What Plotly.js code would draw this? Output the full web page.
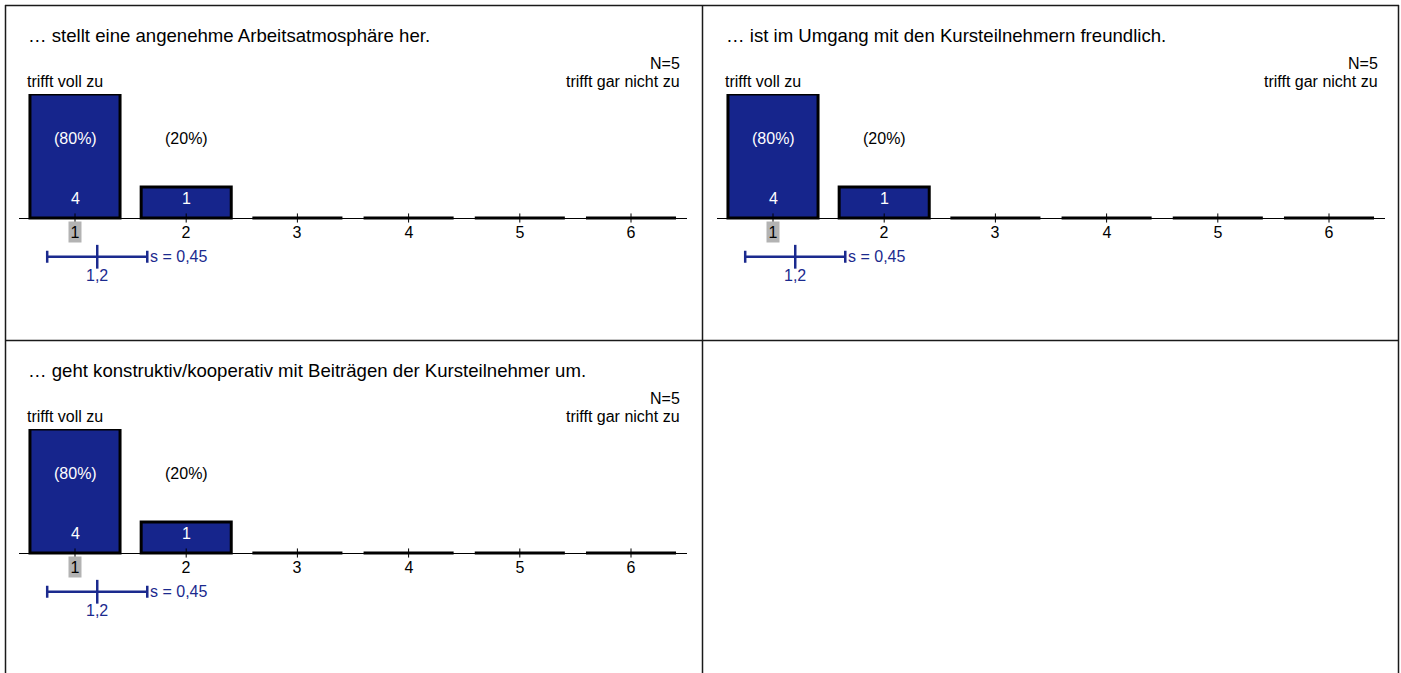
<!DOCTYPE html>
<html><head><meta charset="utf-8">
<script src="https://cdn.plot.ly/plotly-3.0.1.min.js"></script>
<style>html,body{margin:0;padding:0;background:#fff;overflow:hidden}#chart{width:1401px;height:673px}</style>
</head><body><div id="chart"></div>
<script>
const W = 1401, H = 673;

// ---- data ----
const categories = [1, 2, 3, 4, 5, 6];
const tickLabels = ['1', '2', '3', '4', '5', '6'];
const questions = [
  '… stellt eine angenehme Arbeitsatmosphäre her.',
  '… ist im Umgang mit den Kursteilnehmern freundlich.',
  '… geht konstruktiv/kooperativ mit Beiträgen der Kursteilnehmer um.'
];
const counts1 = [4, 1, 0, 0, 0, 0];
const counts2 = [4, 1, 0, 0, 0, 0];
const counts3 = [4, 1, 0, 0, 0, 0];
const percents1 = ['(80%)', '(20%)', '', '', '', ''];
const percents2 = ['(80%)', '(20%)', '', '', '', ''];
const percents3 = ['(80%)', '(20%)', '', '', '', ''];
const nValues = [5, 5, 5];
const means = [1.2, 1.2, 1.2];
const sds = [0.45, 0.45, 0.45];
const medians = [1, 1, 1];
const meanLabels = ['1,2', '1,2', '1,2'];
const sdLabels = ['s = 0,45', 's = 0,45', 's = 0,45'];
const leftPole = 'trifft voll zu';
const rightPole = 'trifft gar nicht zu';

const allCounts = [counts1, counts2, counts3];
const allPercents = [percents1, percents2, percents3];

// ---- style ----
const BAR = '#16258c';
const BLUE = '#1b2a8e';
const FONT = 'Liberation Sans, Arial, Helvetica, sans-serif';
const FS = 16, FT = 18.6;
const px = x => x / W;
const py = y => 1 - y / H;

// panel offsets (pixels)
const offsets = [[0, 0], [698, 0], [0, 335]];

const data = [];
const annotations = [];
const layout = {
  width: W, height: H,
  margin: {l: 0, r: 0, t: 0, b: 0, pad: 0},
  paper_bgcolor: '#fff', plot_bgcolor: 'rgba(0,0,0,0)',
  showlegend: false, hovermode: false,
  font: {family: FONT, color: '#000', size: FS},
  shapes: [],
  annotations: annotations
};

// y positions in data units (31 px per unit, baseline at y=0)
const Y_PCT = 2.55, Y_CNT = 0.64, Y_TICKLBL = -0.45, Y_MEAN = -1.25, Y_MEANLBL = -1.87;

offsets.forEach((o, i) => {
  const sfx = i === 0 ? '' : String(i + 1);
  const xa = 'x' + sfx, ya = 'y' + sfx;
  const ox = o[0], oy = o[1];
  layout['xaxis' + sfx] = {
    domain: [px(ox + 19.4), px(ox + 686.6)], range: [0.5, 6.5],
    showgrid: false, zeroline: false, showticklabels: false, ticks: '', showline: false,
    anchor: ya, fixedrange: true
  };
  layout['yaxis' + sfx] = {
    domain: [py(oy + 295.5), py(oy + 94)], range: [-2.5, 4],
    showgrid: false, showticklabels: false, ticks: '', showline: false,
    zeroline: true, zerolinecolor: '#000', zerolinewidth: 1,
    anchor: xa, fixedrange: true
  };
  const counts = allCounts[i];
  data.push({
    type: 'bar', x: categories, y: counts, width: 0.81,
    marker: {color: BAR, line: {color: '#000', width: 3}},
    xaxis: xa, yaxis: ya, hoverinfo: 'skip'
  });
  // axis tick marks
  data.push({
    type: 'scatter', mode: 'markers', x: categories, y: categories.map(() => 0),
    marker: {symbol: 'line-ns', size: 6.5, line: {color: '#000', width: 1}},
    xaxis: xa, yaxis: ya, hoverinfo: 'skip', cliponaxis: false
  });
  // mean +- sd
  data.push({
    type: 'scatter', mode: 'markers', x: [means[i]], y: [Y_MEAN],
    marker: {symbol: 'line-ns', size: 17, line: {color: BLUE, width: 2.5}},
    error_x: {type: 'data', array: [sds[i]], visible: true, color: BLUE, thickness: 2.5, width: 6},
    xaxis: xa, yaxis: ya, hoverinfo: 'skip', cliponaxis: false
  });
  // texts on bars
  categories.forEach((c, k) => {
    if (counts[k] > 0) {
      annotations.push({xref: xa, yref: ya, x: c, y: Y_CNT, text: String(counts[k]), showarrow: false,
        font: {size: FS, color: '#fff'}, xanchor: 'center', yanchor: 'middle'});
    }
    if (allPercents[i][k]) {
      annotations.push({xref: xa, yref: ya, x: c, y: Y_PCT, text: allPercents[i][k], showarrow: false,
        font: {size: FS, color: counts[k] >= 3 ? '#fff' : '#000'}, xanchor: 'center', yanchor: 'middle'});
    }
    annotations.push({xref: xa, yref: ya, x: c, y: Y_TICKLBL, text: tickLabels[k], showarrow: false,
      font: {size: FS, color: '#000'}, xanchor: 'center', yanchor: 'middle',
      bgcolor: c === medians[i] ? '#b3b3b3' : 'rgba(0,0,0,0)', borderpad: 1.5});
  });
  annotations.push({xref: xa, yref: ya, x: means[i], y: Y_MEANLBL, text: meanLabels[i], showarrow: false,
    font: {size: FS, color: BLUE}, xanchor: 'center', yanchor: 'middle'});
  annotations.push({xref: xa, yref: ya, x: means[i] + sds[i], y: Y_MEAN, text: sdLabels[i], showarrow: false,
    font: {size: FS, color: BLUE}, xanchor: 'left', yanchor: 'middle', xshift: 1});
  // titles and poles
  annotations.push({xref: 'paper', yref: 'paper', x: px(ox + 26), y: py(oy + 35), text: questions[i],
    showarrow: false, xanchor: 'left', yanchor: 'middle', font: {size: FT}});
  annotations.push({xref: 'paper', yref: 'paper', x: px(ox + 682), y: py(oy + 63), text: 'N=' + nValues[i],
    showarrow: false, xanchor: 'right', yanchor: 'middle', font: {size: FS}});
  annotations.push({xref: 'paper', yref: 'paper', x: px(ox + 682), y: py(oy + 81), text: rightPole,
    showarrow: false, xanchor: 'right', yanchor: 'middle', font: {size: FS}});
  annotations.push({xref: 'paper', yref: 'paper', x: px(ox + 25), y: py(oy + 81), text: leftPole,
    showarrow: false, xanchor: 'left', yanchor: 'middle', font: {size: FS}});
});

// frame
const frameLine = {color: '#1a1a1a', width: 1.5};
const seg = (x0, y0, x1, y1) => ({type: 'line', xref: 'paper', yref: 'paper',
  x0: px(x0), y0: py(y0), x1: px(x1), y1: py(y1), line: frameLine});
layout.shapes.push(seg(5, 5.5, 1399, 5.5));
layout.shapes.push(seg(5.5, 5, 5.5, 673));
layout.shapes.push(seg(1398.5, 5, 1398.5, 673));
layout.shapes.push(seg(702.5, 5, 702.5, 673));
layout.shapes.push(seg(5, 340.5, 1399, 340.5));

Plotly.newPlot('chart', data, layout, {staticPlot: true, displayModeBar: false});
</script>
</body></html>
